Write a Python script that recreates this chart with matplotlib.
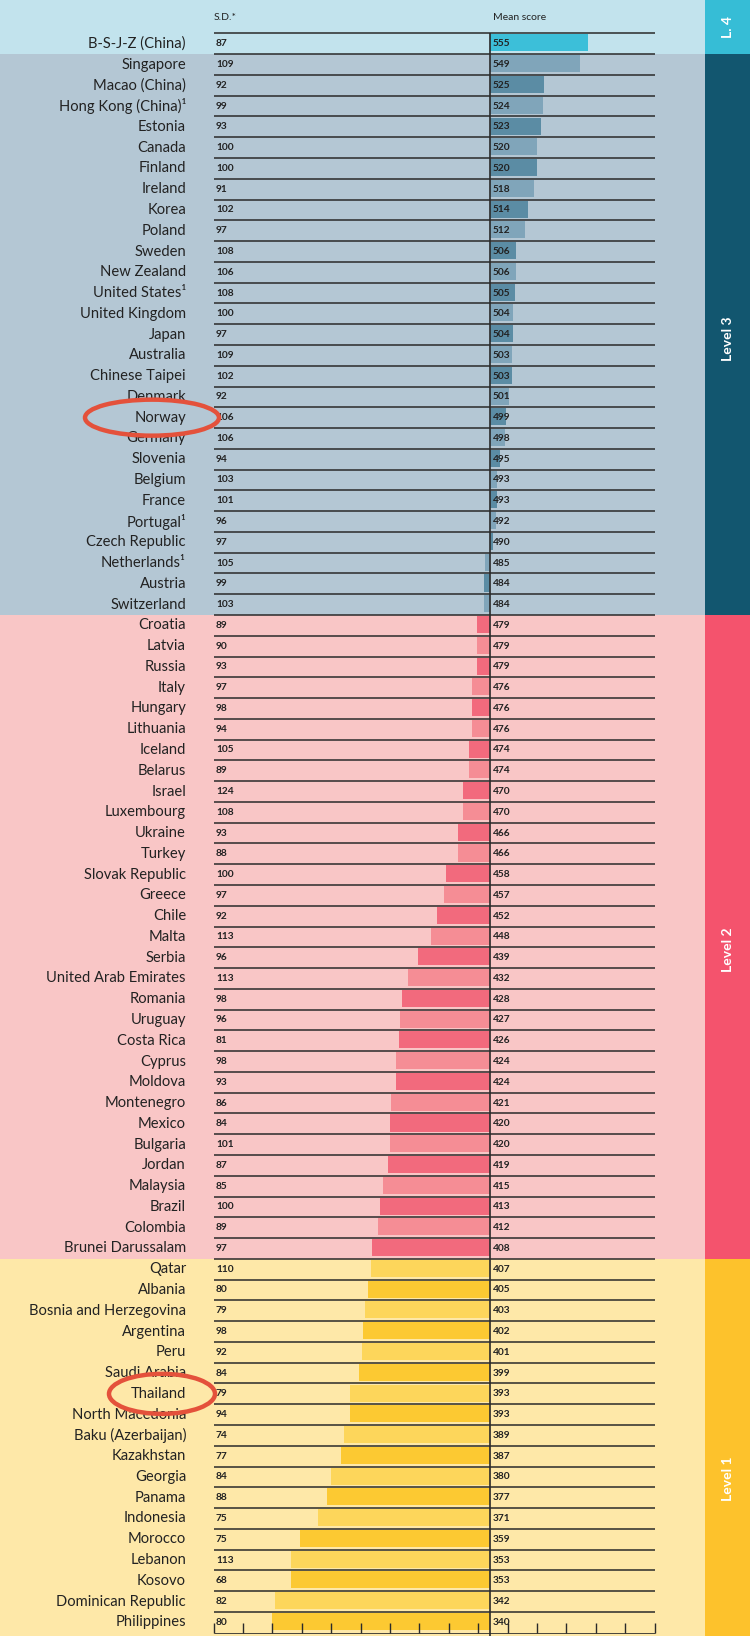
import matplotlib
matplotlib.use("Agg")
import matplotlib.pyplot as plt
from matplotlib.patches import Ellipse
import matplotlib.transforms as mtransforms

plt.rcParams['font.family'] = ['Lato', 'DejaVu Sans']

# PISA 2018 reading: countries, standard deviation and mean score
countries = [
    'B-S-J-Z (China)',
    'Singapore', 'Macao (China)', 'Hong Kong (China)¹', 'Estonia', 'Canada', 'Finland', 'Ireland',
    'Korea', 'Poland', 'Sweden', 'New Zealand', 'United States¹', 'United Kingdom', 'Japan',
    'Australia', 'Chinese Taipei', 'Denmark', 'Norway', 'Germany', 'Slovenia', 'Belgium', 'France',
    'Portugal¹', 'Czech Republic', 'Netherlands¹', 'Austria', 'Switzerland',
    'Croatia', 'Latvia', 'Russia', 'Italy', 'Hungary', 'Lithuania', 'Iceland', 'Belarus', 'Israel',
    'Luxembourg', 'Ukraine', 'Turkey', 'Slovak Republic', 'Greece', 'Chile', 'Malta', 'Serbia',
    'United Arab Emirates', 'Romania', 'Uruguay', 'Costa Rica', 'Cyprus', 'Moldova', 'Montenegro',
    'Mexico', 'Bulgaria', 'Jordan', 'Malaysia', 'Brazil', 'Colombia', 'Brunei Darussalam',
    'Qatar', 'Albania', 'Bosnia and Herzegovina', 'Argentina', 'Peru', 'Saudi Arabia', 'Thailand',
    'North Macedonia', 'Baku (Azerbaijan)', 'Kazakhstan', 'Georgia', 'Panama', 'Indonesia',
    'Morocco', 'Lebanon', 'Kosovo', 'Dominican Republic', 'Philippines',
]
sd = [
    87,
    109, 92, 99, 93, 100, 100, 91, 102, 97, 108, 106, 108, 100, 97, 109, 102, 92, 106, 106, 94,
    103, 101, 96, 97, 105, 99, 103,
    89, 90, 93, 97, 98, 94, 105, 89, 124, 108, 93, 88, 100, 97, 92, 113, 96, 113, 98, 96, 81, 98,
    93, 86, 84, 101, 87, 85, 100, 89, 97,
    110, 80, 79, 98, 92, 84, 79, 94, 74, 77, 84, 88, 75, 75, 113, 68, 82, 80,
]
mean_score = [
    555,
    549, 525, 524, 523, 520, 520, 518, 514, 512, 506, 506, 505, 504, 504, 503, 503, 501, 499, 498,
    495, 493, 493, 492, 490, 485, 484, 484,
    479, 479, 479, 476, 476, 476, 474, 474, 470, 470, 466, 466, 458, 457, 452, 448, 439, 432, 428,
    427, 426, 424, 424, 421, 420, 420, 419, 415, 413, 412, 408,
    407, 405, 403, 402, 401, 399, 393, 393, 389, 387, 380, 377, 371, 359, 353, 353, 342, 340,
]
baseline = 488
level_names = ['L. 4', 'Level 3', 'Level 2', 'Level 1']
level_sizes = [1, 27, 31, 18]
highlighted = ['Norway', 'Thailand']
axis_ticks = list(range(300, 601, 20))

# colours per level: background, bar (light, dark), side band
bg_colors = ['#c2e3ed', '#b4c7d4', '#f9c6c6', '#fee8a8']
bar_light = ['#3cbfd9', '#80a5ba', '#f58d95', '#fdd65b']
bar_dark = ['#3cbfd9', '#5b8ca4', '#f26a7d', '#fcc932']
side_colors = ['#36bdd6', '#12566f', '#f4536d', '#fdc22c']
line_col = '#2a2a2a'

W, H = 750, 1636
fig = plt.figure(figsize=(W / 100, H / 100), dpi=100)
ax = fig.add_axes([0, 0, 1, 1])
ax.axis('off')

# map pixels -> data: 300 at x=213.5px, 1.47 px per point; row 0 centred at y=43.8px
px_per_pt = 1.47
x300 = 213.5
row_h = 20.77
row0 = 43.8
ax.set_xlim(300 - x300 / px_per_pt, 300 + (W - x300) / px_per_pt)
ax.set_ylim((H - row0) / row_h, -row0 / row_h)
y_top, y_bot = -row0 / row_h, (H - row0) / row_h

n = len(countries)
side_x0 = 705 / W
blend = mtransforms.blended_transform_factory(ax.transAxes, ax.transData)

# background bands and side level bands
start = 0
level_of = []
for k, size in enumerate(level_sizes):
    lo = y_top if k == 0 else start - 0.5
    hi = y_bot if k == len(level_sizes) - 1 else start + size - 0.5
    ax.axhspan(lo, hi, xmin=0, xmax=side_x0, color=bg_colors[k], lw=0, zorder=0)
    ax.axhspan(lo, hi, xmin=side_x0, xmax=1, color=side_colors[k], lw=0, zorder=0)
    mid = {0: (lo + hi) / 2, 1: 14.2, 2: 43.6, 3: 69.1}[k]
    ax.text((side_x0 + 1) / 2, mid, level_names[k], transform=blend,
            rotation=90, color='white', fontsize=10, fontweight='bold', ha='center', va='center')
    level_of += [k] * size
    start += size

# bars
for i in range(n):
    k = level_of[i]
    col = bar_light[k] if i % 2 == 1 else bar_dark[k]
    ax.barh(i - 0.04, mean_score[i] - baseline, left=baseline, height=0.82,
            color=col, lw=0, zorder=2)

# row separator lines
ax.hlines([i - 0.5 for i in range(n)], 300, 600, color=line_col, lw=1.1, zorder=3)
# bottom ticks
ax.hlines(n - 0.5 + 0.02, 300, 600, color=line_col, lw=0.6, zorder=3)
ax.vlines(axis_ticks, n - 0.98, n - 0.5 + 0.02, color=line_col, lw=1.0, zorder=3)
# reference line
ax.vlines(baseline, -0.5, y_bot, color=line_col, lw=1.2, zorder=4)

# texts
for i in range(n):
    ax.text(186 / W, i, countries[i], transform=blend, ha='right', va='center',
            fontsize=10.65, color='#222222', zorder=5)
    ax.text(216 / W, i, str(sd[i]), transform=blend, ha='left', va='center',
            fontsize=7.3, fontweight='bold', color='#222222', zorder=5)
    ax.text(baseline + 2, i, str(mean_score[i]), ha='left', va='center',
            fontsize=7.3, fontweight='bold', color='#222222', zorder=5)

ax.text(214 / W, -1.26, 'S.D.*', transform=blend, ha='left', va='center', fontsize=7.5, color='#222222')
ax.text(baseline + 2, -1.26, 'Mean score', ha='left', va='center', fontsize=7.5, color='#222222')

# red circles around highlighted countries
ellipse_geom = {'Norway': (152, 134, 36), 'Thailand': (162, 106, 40)}
for name in highlighted:
    i = countries.index(name)
    cx, w, h = ellipse_geom[name]
    cy = 1 - (row0 + i * row_h) / H
    ax.add_patch(Ellipse((cx / W, cy), w / W, h / H, transform=ax.transAxes,
                         fill=False, edgecolor='#e4513b', lw=3.2, zorder=6))

fig.savefig('out.png', dpi=100)
